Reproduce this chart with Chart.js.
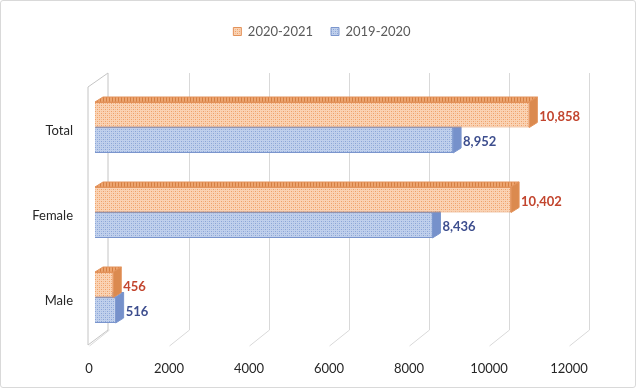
<!DOCTYPE html>
<html>
<head>
<meta charset="utf-8">
<script src="https://cdn.jsdelivr.net/npm/chart.js@4.4.1/dist/chart.umd.min.js"></script>
<style>
  html, body { margin: 0; padding: 0; background: #fff; }
  .moldura { width: 636px; height: 388px; box-sizing: border-box; border: 1px solid #d9d9d9; border-radius: 3px; }
  .moldura canvas { display: block; }
</style>
</head>
<body>
<div class="moldura"><canvas id="grafico" width="634" height="386"></canvas></div>
<script>
// dados
const categorias = ['Total', 'Female', 'Male'];
const serie2021 = [10858, 10402, 456];
const serie2020 = [8952, 8436, 516];
const nomesSeries = ['2020-2021', '2019-2020'];
const ticksX = [0, 2000, 4000, 6000, 8000, 10000, 12000];

const FONTE = 'Lato, "Open Sans", sans-serif';
const DX = 8, DY = 5; // profundidade das barras

// textura quadriculada da face da frente
function hachura(base, linha) {
  const c = document.createElement('canvas');
  c.width = 4; c.height = 4;
  const g = c.getContext('2d');
  g.fillStyle = base; g.fillRect(0, 0, 4, 4);
  g.fillStyle = linha;
  g.fillRect(0, 0, 1, 1); g.fillRect(2, 2, 1, 1);
  g.globalAlpha = 0.5;
  g.fillRect(2, 0, 1, 1); g.fillRect(0, 2, 1, 1);
  return g.createPattern(c, 'repeat');
}

// listras verticais da face de cima
function listras(base, linha) {
  const c = document.createElement('canvas');
  c.width = 3; c.height = 3;
  const g = c.getContext('2d');
  g.fillStyle = base; g.fillRect(0, 0, 3, 3);
  g.fillStyle = linha; g.fillRect(0, 0, 1, 3);
  return g.createPattern(c, 'repeat');
}

const faces = [
  { topo: listras('#EDA570', '#D47F42'), lado: '#DB8A4F', borda: '#E3925A', rotulo: '#C2452E' },
  { topo: listras('#97AEDC', '#7D96CB'), lado: '#7691CB', borda: '#7A95CD', rotulo: '#3D4E8E' }
];

const profundidade = {
  id: 'profundidade',
  beforeDatasetsDraw(chart) {
    const ctx = chart.ctx;
    const area = chart.chartArea;
    const x = chart.scales.x;
    const x0 = x.getPixelForValue(0);
    ctx.save();
    ctx.lineWidth = 1;
    // parede da esquerda
    ctx.beginPath();
    ctx.moveTo(x0 - 7, area.top + 2);
    ctx.lineTo(x0 + 13, area.top - 12);
    ctx.lineTo(x0 + 13, area.bottom - 10);
    ctx.lineTo(x0 - 7, area.bottom + 5);
    ctx.closePath();
    ctx.fillStyle = '#ffffff';
    ctx.fill();
    ctx.strokeStyle = '#c4c4c4';
    ctx.stroke();
    // linhas de grade no fundo e no piso
    ctx.strokeStyle = '#d9d9d9';
    ticksX.forEach((v, i) => {
      const px = Math.round(x.getPixelForValue(v)) + 0.5;
      if (i > 0) {
        ctx.beginPath();
        ctx.moveTo(px + 14, area.top - 12);
        ctx.lineTo(px + 14, area.bottom - 10);
        ctx.stroke();
      }
      ctx.beginPath();
      ctx.moveTo(px - 6, area.bottom + 6);
      ctx.lineTo(px + 14, area.bottom - 10);
      ctx.stroke();
    });
    ctx.restore();
  },
  beforeDatasetDraw(chart, args) {
    const ctx = chart.ctx;
    const f = faces[args.index];
    ctx.save();
    ctx.lineWidth = 1;
    ctx.strokeStyle = f.borda;
    args.meta.data.forEach(bar => {
      const { x, y, base, height } = bar.getProps(['x', 'y', 'base', 'height'], true);
      const t = y - height / 2, b = y + height / 2;
      ctx.beginPath();
      ctx.moveTo(base, t); ctx.lineTo(x, t); ctx.lineTo(x + DX, t - DY); ctx.lineTo(base + DX, t - DY);
      ctx.closePath();
      ctx.fillStyle = f.topo; ctx.fill(); ctx.stroke();
      ctx.beginPath();
      ctx.moveTo(x, t); ctx.lineTo(x + DX, t - DY); ctx.lineTo(x + DX, b - DY); ctx.lineTo(x, b);
      ctx.closePath();
      ctx.fillStyle = f.lado; ctx.fill(); ctx.stroke();
    });
    ctx.restore();
  },
  afterDatasetsDraw(chart) {
    const ctx = chart.ctx;
    ctx.save();
    ctx.font = 'bold 13px ' + FONTE;
    ctx.textAlign = 'left';
    ctx.textBaseline = 'middle';
    chart.data.datasets.forEach((ds, i) => {
      ctx.fillStyle = faces[i].rotulo;
      chart.getDatasetMeta(i).data.forEach((bar, j) => {
        const { x, y } = bar.getProps(['x', 'y'], true);
        ctx.fillText(ds.data[j].toLocaleString('en-US'), x + DX + 2, y + 2);
      });
    });
    ctx.restore();
  }
};

// espaço entre a legenda e o gráfico
const margemLegenda = {
  id: 'margemLegenda',
  beforeInit(chart) {
    const fit = chart.legend.fit;
    chart.legend.fit = function () {
      fit.bind(chart.legend)();
      this.height = 78;
    };
  }
};

new Chart(document.getElementById('grafico'), {
  type: 'bar',
  data: {
    labels: categorias,
    datasets: [{
      label: nomesSeries[0],
      data: serie2021,
      backgroundColor: hachura('#FAD3B4', '#EE9F67'),
      borderColor: faces[0].borda,
      borderWidth: 1,
      categoryPercentage: 0.6,
      barPercentage: 1,
      order: 1
    }, {
      label: nomesSeries[1],
      data: serie2020,
      backgroundColor: hachura('#C0D0EC', '#8AA4D6'),
      borderColor: faces[1].borda,
      borderWidth: 1,
      categoryPercentage: 0.6,
      barPercentage: 1,
      order: 2
    }]
  },
  options: {
    indexAxis: 'y',
    responsive: false,
    animation: false,
    layout: { padding: { top: 6, right: 0, bottom: 0, left: 8 } },
    plugins: {
      tooltip: { enabled: false },
      legend: {
        position: 'top',
        labels: {
          boxWidth: 8,
          boxHeight: 8,
          padding: 18,
          color: '#595959',
          font: { family: FONTE, size: 13 }
        }
      }
    },
    scales: {
      x: {
        min: ticksX[0],
        max: ticksX[ticksX.length - 1],
        afterBuildTicks: s => { s.ticks = ticksX.map(v => ({ value: v })); },
        afterFit: s => { s.height = 47; },
        grid: { display: false, drawTicks: false },
        border: { display: false },
        ticks: {
          padding: 21,
          labelOffset: -6,
          color: '#262626',
          font: { family: FONTE, size: 13 },
          callback: v => String(v)
        }
      },
      y: {
        afterFit: s => { s.width = 86; },
        grid: { display: false, drawTicks: false },
        border: { display: false },
        ticks: {
          padding: 22,
          labelOffset: 3,
          color: '#262626',
          font: { family: FONTE, size: 13 }
        }
      },
      // margem da direita, sem conteúdo
      direita: {
        type: 'category',
        position: 'right',
        labels: categorias,
        afterFit: s => { s.width = 60; },
        grid: { display: false, drawTicks: false },
        border: { display: false },
        ticks: { display: false }
      }
    }
  },
  plugins: [profundidade, margemLegenda]
});
</script>
</body>
</html>
